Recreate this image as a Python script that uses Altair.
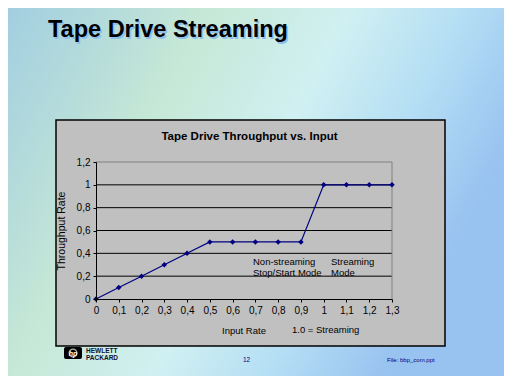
import altair as alt
import pandas as pd

# ---- data ----
input_rate = [0.0, 0.1, 0.2, 0.3, 0.4, 0.5, 0.6, 0.7, 0.8, 0.9, 1.0, 1.1, 1.2, 1.3]
throughput = [0.0, 0.1, 0.2, 0.3, 0.4, 0.5, 0.5, 0.5, 0.5, 0.5, 1.0, 1.0, 1.0, 1.0]
x_ticks = [0.0, 0.1, 0.2, 0.3, 0.4, 0.5, 0.6, 0.7, 0.8, 0.9, 1.0, 1.1, 1.2, 1.3]
y_ticks = [0.0, 0.2, 0.4, 0.6, 0.8, 1.0, 1.2]
grid_values = [0.2, 0.4, 0.6, 0.8, 1.0]

slide_title = "Tape Drive Streaming"
chart_title = "Tape Drive Throughput vs. Input"
x_title = "Input Rate"
y_title = "Throughput Rate"

df = pd.DataFrame({"x": input_rate, "y": throughput})
grid_df = pd.DataFrame({"y": grid_values})
one = pd.DataFrame({"k": [0]})

FONT = "Arial, Liberation Sans, sans-serif"
NAVY = "#000080"
PW, PH = 296, 137

xscale = alt.Scale(domain=[0, 1.3], nice=False, zero=False)
yscale = alt.Scale(domain=[0, 1.2], nice=False, zero=False)
label_expr = "replace(format(datum.value, '.1~f'), '.', ',')"

x_axis = alt.Axis(values=x_ticks, labelExpr=label_expr, grid=False, zindex=1,
                  labelOverlap=False, labelFlush=False,
                  domainColor="black", tickColor="black", tickSize=3, labelPadding=3,
                  labelFont=FONT, labelFontSize=10, labelColor="black",
                  title=x_title, titleFont=FONT, titleFontSize=9.5, titleFontWeight="normal",
                  titleColor="black", titleX=147.5, titleY=34, titleBaseline="alphabetic",
                  titleAlign="center")
y_axis = alt.Axis(values=y_ticks, labelExpr=label_expr, grid=False, zindex=1,
                  labelOverlap=False, labelFlush=False,
                  domainColor="black", tickColor="black", tickSize=3, labelPadding=3,
                  labelFont=FONT, labelFontSize=10, labelColor="black",
                  title=y_title, titleFont=FONT, titleFontSize=10.5, titleFontWeight="normal",
                  titleColor="black", titleX=-35, titleY=PH / 2, titleAngle=270,
                  titleBaseline="middle", titleAlign="center")

# ---- decorative backdrop ----
bg = alt.Chart(one).mark_rect(
    clip=False,
    color=alt.LinearGradient(
        gradient="linear", x1=0, y1=0, x2=1, y2=0.4,
        stops=[alt.GradientStop(color="#A2CEE0", offset=0),
               alt.GradientStop(color="#C6E8D6", offset=0.35),
               alt.GradientStop(color="#D0F0F2", offset=0.6),
               alt.GradientStop(color="#B4DEF4", offset=0.8),
               alt.GradientStop(color="#98C2F0", offset=1)]),
).encode(x=alt.value(-88), x2=alt.value(408), y=alt.value(-154), y2=alt.value(214))

box = alt.Chart(one).mark_rect(clip=False, fill="#C0C0C0", stroke="black", strokeWidth=1.5).encode(
    x=alt.value(-40), x2=alt.value(349), y=alt.value(-42), y2=alt.value(184))

grid = alt.Chart(grid_df).mark_rule(color="black", strokeWidth=1).encode(
    y=alt.Y("y:Q", scale=yscale, axis=y_axis))

top_border = alt.Chart(one).mark_rule(color="#808080", strokeWidth=1).encode(
    y=alt.datum(1.2, scale=yscale, axis=y_axis))
right_border = alt.Chart(one).mark_rule(color="#808080", strokeWidth=1).encode(
    x=alt.datum(1.3, scale=xscale, axis=x_axis))

base = alt.Chart(df).encode(
    x=alt.X("x:Q", scale=xscale, axis=x_axis),
    y=alt.Y("y:Q", scale=yscale, axis=y_axis),
)
line = base.mark_line(color=NAVY, strokeWidth=1.2)
pts = base.mark_point(shape="diamond", filled=True, size=30, color=NAVY, opacity=1)


def txt(s, x, y, size, weight="normal", color="black", align="left", font=FONT, style="normal"):
    return alt.Chart(one).mark_text(
        text=s, font=font, fontSize=size, fontWeight=weight, color=color,
        align=align, baseline="alphabetic", clip=False, fontStyle=style,
    ).encode(x=alt.value(x), y=alt.value(y))


layers = [
    bg, box, grid, top_border, right_border, line, pts,
    txt(slide_title, -46.5, -123.5, 23.5, "bold", "#8EC0EC"),
    txt(slide_title, -48, -125, 23.5, "bold"),
    txt(chart_title, 153.5, -22, 11.5, "bold", align="center"),
    txt("Non-streaming", 157, 103, 9.5),
    txt("Stop/Start Mode", 157, 114, 9.5),
    txt("Streaming", 235, 103, 9.5),
    txt("Mode", 235, 114, 9.5),
    txt("1.0 = Streaming", 196, 171, 9.5),
    # footer
    alt.Chart(one).mark_rect(clip=False, color="black", cornerRadius=2).encode(
        x=alt.value(-32), x2=alt.value(-14), y=alt.value(185), y2=alt.value(197)),
    alt.Chart(one).mark_point(clip=False, color="white", size=60, strokeWidth=1.2).encode(
        x=alt.value(-23), y=alt.value(191)),
    txt("hp", -23, 193.5, 7, "bold", "white", "center", style="italic"),
    txt("HEWLETT", -10, 190.5, 6.5, "bold", "#101030"),
    txt("PACKARD", -10, 197.5, 6.5, "bold", "#101030"),
    txt("12", 147, 200, 6.5, "normal", NAVY),
    txt("File: bbp_com.ppt", 291, 200, 6, "normal", NAVY),
]

chart = alt.layer(*layers).properties(
    width=PW, height=PH,
    padding={"left": 88, "top": 154, "right": 112, "bottom": 77},
    autosize=alt.AutoSizeParams(type="none"),
).configure_view(stroke=None)

chart.save("out.html", embed_options={"renderer": "svg", "actions": False})
